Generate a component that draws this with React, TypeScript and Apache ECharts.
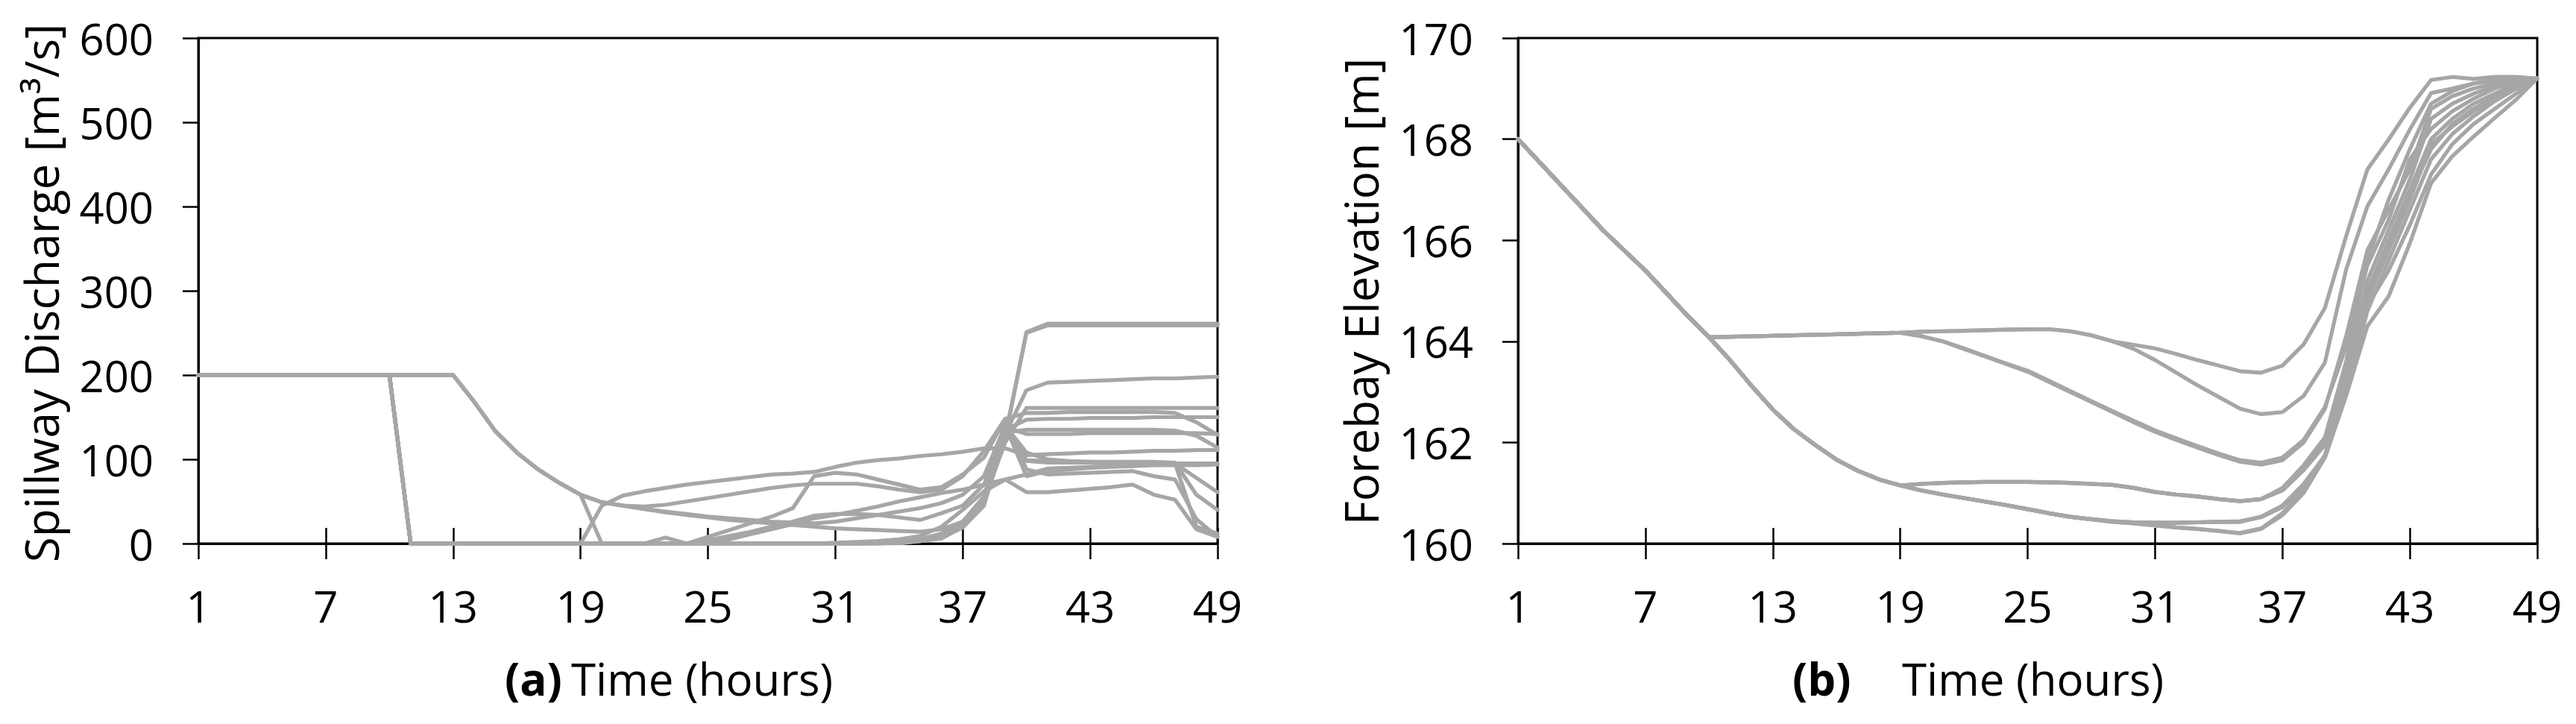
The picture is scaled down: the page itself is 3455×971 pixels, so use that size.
import React, { useEffect, useRef } from 'react';
import * as echarts from 'echarts';

// ---------- categories ----------
const hours = ['1','2','3','4','5','6','7','8','9','10','11','12','13','14','15','16','17','18','19','20','21','22','23','24','25','26','27','28','29','30','31','32','33','34','35','36','37','38','39','40','41','42','43','44','45','46','47','48','49'];

// ---------- (a) Spillway discharge ----------
// hours 1..19 (shared beginnings)
const dischargeHeadA = [200, 200, 200, 200, 200, 200, 200, 200, 200, 200, 200, 200, 200, 168, 133, 108, 88, 72, 58];
const dischargeHeadD = [200, 200, 200, 200, 200, 200, 200, 200, 200, 200, 0, 0, 0, 0, 0, 0, 0, 0, 0];
// hours 20..49
const dTail1 = [49, 45, 41, 37, 34, 31, 28, 26, 24, 22, 20, 18, 17, 16, 15, 14, 17, 26, 52, 120, 161, 161, 161, 161, 161, 161, 161, 161, 161, 161];
const dTail2 = [0, 0, 0, 0, 0, 0, 0, 0, 0, 0, 0, 0, 0, 0, 1, 3, 6, 20, 47, 125, 251, 261, 261, 261, 261, 261, 261, 261, 261, 261];
const dTail3 = [45, 57, 62, 66, 70, 73, 76, 79, 82, 83, 85, 91, 96, 99, 101, 104, 106, 109, 113, 113, 105, 106, 107, 108, 108, 109, 110, 110, 111, 111];
const dTail4 = [0, 0, 0, 0, 0, 8, 16, 24, 32, 42, 80, 84, 82, 76, 70, 64, 67, 82, 102, 148, 155, 155, 156, 156, 156, 156, 156, 155, 144, 129];
const dTail5 = [0, 0, 0, 0, 0, 0, 5, 11, 17, 23, 30, 34, 39, 44, 50, 55, 60, 64, 70, 76, 82, 89, 90, 91, 92, 92, 93, 93, 93, 94];
const dTail6 = [0, 0, 0, 7, 0, 4, 9, 14, 20, 26, 33, 35, 35, 34, 31, 28, 36, 45, 70, 132, 135, 135, 135, 135, 135, 135, 135, 134, 128, 114];
const dTail7 = [0, 0, 0, 0, 0, 0, 0, 0, 0, 0, 0, 0, 0, 1, 3, 5, 9, 23, 49, 130, 182, 191, 192, 193, 194, 195, 196, 196, 197, 198];
const dTail8 = [0, 0, 0, 0, 0, 0, 0, 0, 0, 0, 0, 0, 0, 0, 2, 4, 10, 22, 50, 128, 250, 259, 259, 259, 259, 259, 259, 259, 259, 259];
const dTail9 = [49, 45, 44, 46, 50, 54, 58, 62, 66, 69, 71, 71, 71, 68, 64, 61, 64, 80, 110, 148, 88, 82, 83, 84, 85, 86, 80, 76, 29, 8];
const dTail10 = [0, 0, 0, 0, 0, 0, 0, 0, 0, 0, 0, 1, 2, 3, 5, 9, 20, 40, 62, 76, 61, 61, 63, 65, 67, 70, 58, 52, 17, 8];
const dTail11 = [0, 0, 0, 0, 0, 0, 0, 0, 0, 0, 0, 0, 0, 0, 2, 4, 8, 22, 50, 135, 147, 148, 148, 149, 149, 149, 150, 150, 150, 150];
const dTail12 = [0, 0, 0, 0, 0, 0, 0, 0, 0, 0, 0, 0, 0, 1, 2, 4, 10, 24, 55, 138, 130, 130, 130, 131, 131, 131, 131, 131, 131, 130];
const dTail13 = [0, 0, 0, 0, 0, 0, 0, 0, 0, 0, 0, 0, 0, 0, 2, 5, 12, 26, 56, 140, 99, 98, 97, 97, 96, 96, 96, 95, 95, 95];
const dTail14 = [0, 0, 0, 0, 0, 0, 0, 0, 0, 0, 0, 0, 0, 0, 0, 3, 10, 25, 55, 140, 108, 100, 98, 97, 97, 97, 97, 96, 58, 40];
const dTail15 = [49, 45, 41, 38, 35, 32, 30, 28, 26, 25, 24, 26, 30, 34, 38, 42, 48, 58, 80, 140, 80, 86, 88, 90, 91, 92, 94, 95, 78, 61];
const dTail16 = [0, 0, 0, 0, 0, 0, 0, 0, 0, 0, 0, 0, 0, 0, 1, 3, 7, 19, 45, 135, 98, 96, 96, 96, 95, 95, 95, 95, 20, 12];

const dischargeSeries = [
  [...dischargeHeadA, ...dTail1],
  [...dischargeHeadA, ...dTail2],
  [...dischargeHeadD, ...dTail3],
  [...dischargeHeadD, ...dTail4],
  [...dischargeHeadD, ...dTail5],
  [...dischargeHeadD, ...dTail6],
  [...dischargeHeadD, ...dTail7],
  [...dischargeHeadD, ...dTail8],
  [...dischargeHeadA, ...dTail9],
  [...dischargeHeadD, ...dTail10],
  [...dischargeHeadD, ...dTail11],
  [...dischargeHeadD, ...dTail12],
  [...dischargeHeadD, ...dTail13],
  [...dischargeHeadD, ...dTail14],
  [...dischargeHeadA, ...dTail15],
  [...dischargeHeadD, ...dTail16],
];

// ---------- (b) Forebay elevation ----------
const elevHead = [168, 167.55, 167.1, 166.65, 166.2, 165.8, 165.4, 164.95, 164.5, 164.08]; // h1..h10
const elevUpper = [164.09, 164.1, 164.11, 164.12, 164.13, 164.14, 164.15, 164.16, 164.17]; // h11..h19
const elevLower = [163.62, 163.12, 162.65, 162.26, 161.95, 161.66, 161.44, 161.27, 161.15]; // h11..h19
const elevFlat = [164.19, 164.2, 164.21, 164.22, 164.23, 164.24, 164.24, 164.2, 164.12, 164.0]; // h20..h29
// h30..h49
const eTail1 = [163.93, 163.86, 163.75, 163.63, 163.52, 163.41, 163.38, 163.52, 163.94, 164.66, 166.08, 167.4, 167.99, 168.62, 169.17, 169.23, 169.19, 169.23, 169.23, 169.2];
const eTail2 = [163.85, 163.63, 163.38, 163.13, 162.9, 162.67, 162.56, 162.6, 162.92, 163.58, 165.42, 166.67, 167.4, 168.19, 168.91, 169.0, 169.1, 169.18, 169.2, 169.2];
// h20..h49
const eTail3 = [164.1, 164.0, 163.85, 163.7, 163.55, 163.4, 163.2, 163.0, 162.8, 162.6, 162.4, 162.21, 162.05, 161.9, 161.75, 161.62, 161.56, 161.65, 162.0, 162.66, 164.1, 165.8, 166.6, 167.4, 168.6, 168.85, 169.0, 169.1, 169.15, 169.2];
const eTail4 = [164.1, 164.0, 163.86, 163.71, 163.56, 163.42, 163.22, 163.02, 162.82, 162.62, 162.43, 162.24, 162.08, 161.93, 161.78, 161.65, 161.6, 161.7, 162.05, 162.7, 163.9, 165.5, 166.4, 167.6, 168.2, 168.55, 168.8, 169.0, 169.15, 169.2];
const eTail5 = [161.18, 161.2, 161.21, 161.22, 161.22, 161.22, 161.21, 161.2, 161.18, 161.16, 161.1, 161.02, 160.97, 160.93, 160.88, 160.84, 160.88, 161.08, 161.5, 162.0, 163.4, 165.2, 166.2, 167.2, 168.4, 168.7, 168.9, 169.05, 169.15, 169.2];
const eTail6 = [161.18, 161.2, 161.21, 161.22, 161.22, 161.22, 161.21, 161.2, 161.18, 161.16, 161.1, 161.02, 160.97, 160.93, 160.88, 160.84, 160.88, 161.05, 161.45, 161.95, 163.3, 164.9, 165.9, 166.9, 167.8, 168.3, 168.6, 168.85, 169.05, 169.2];
const eTail7 = [161.05, 160.97, 160.9, 160.83, 160.76, 160.68, 160.6, 160.53, 160.48, 160.44, 160.42, 160.41, 160.41, 160.42, 160.43, 160.43, 160.53, 160.75, 161.18, 161.74, 163.1, 165.0, 166.0, 167.0, 168.0, 168.4, 168.7, 168.9, 169.1, 169.2];
const eTail8 = [161.05, 160.97, 160.9, 160.83, 160.76, 160.68, 160.6, 160.53, 160.48, 160.44, 160.42, 160.41, 160.41, 160.42, 160.43, 160.44, 160.52, 160.72, 161.12, 161.7, 162.95, 164.6, 165.6, 166.6, 167.6, 168.1, 168.45, 168.75, 169.0, 169.2];
const eTail9 = [161.05, 160.97, 160.9, 160.83, 160.76, 160.68, 160.6, 160.53, 160.48, 160.43, 160.4, 160.36, 160.32, 160.29, 160.25, 160.2, 160.29, 160.56, 161.0, 161.7, 162.92, 164.3, 164.89, 165.94, 167.13, 167.66, 168.05, 168.42, 168.78, 169.2];
const eTail10 = [161.05, 160.97, 160.9, 160.83, 160.76, 160.68, 160.6, 160.53, 160.48, 160.43, 160.4, 160.36, 160.32, 160.29, 160.25, 160.21, 160.3, 160.6, 161.05, 161.75, 163.0, 164.7, 165.4, 166.3, 167.3, 167.9, 168.3, 168.6, 168.9, 169.2];
const eTail11 = [161.05, 160.97, 160.9, 160.83, 160.76, 160.68, 160.6, 160.53, 160.48, 160.44, 160.42, 160.41, 160.41, 160.42, 160.43, 160.43, 160.53, 160.74, 161.15, 161.72, 163.2, 164.8, 165.8, 166.8, 167.9, 168.25, 168.55, 168.8, 169.0, 169.2];
const eTail12 = [161.18, 161.2, 161.21, 161.22, 161.22, 161.22, 161.21, 161.2, 161.18, 161.16, 161.1, 161.02, 160.97, 160.93, 160.88, 160.84, 160.88, 161.1, 161.55, 162.1, 163.6, 165.6, 166.8, 167.8, 168.7, 168.95, 169.1, 169.15, 169.2, 169.2];

const elevationSeries = [
  [...elevHead, ...elevUpper, ...elevFlat, ...eTail1],
  [...elevHead, ...elevUpper, ...elevFlat, ...eTail2],
  [...elevHead, ...elevUpper, ...eTail3],
  [...elevHead, ...elevUpper, ...eTail4],
  [...elevHead, ...elevLower, ...eTail5],
  [...elevHead, ...elevLower, ...eTail6],
  [...elevHead, ...elevLower, ...eTail7],
  [...elevHead, ...elevLower, ...eTail8],
  [...elevHead, ...elevLower, ...eTail9],
  [...elevHead, ...elevLower, ...eTail10],
  [...elevHead, ...elevLower, ...eTail11],
  [...elevHead, ...elevLower, ...eTail12],
];

// ---------- style ----------
const FONT = 'Open Sans';
const LINE_GRAY = '#A6A6A6';
const BLACK = '#000000';
const TICK_FS = 58;
const TITLE_FS = 60;

function xAxesFor(gridIndex: number) {
  return [
    {
      type: 'category',
      gridIndex,
      data: hours,
      boundaryGap: false,
      axisLine: { show: true, lineStyle: { color: BLACK, width: 3 } },
      axisTick: { show: true, interval: 5, length: 21, lineStyle: { color: BLACK, width: 2.5 } },
      axisLabel: { interval: 5, margin: 54, fontSize: TICK_FS, color: BLACK, fontFamily: FONT },
      splitLine: { show: false },
    },
    {
      type: 'category',
      gridIndex,
      data: hours,
      boundaryGap: false,
      position: 'bottom',
      axisLine: { show: false },
      axisTick: { show: true, inside: true, interval: 5, length: 21, lineStyle: { color: BLACK, width: 2.5 } },
      axisLabel: { show: false },
      splitLine: { show: false },
    },
  ];
}

function yAxisFor(gridIndex: number, min: number, max: number, interval: number) {
  return {
    type: 'value',
    gridIndex,
    min,
    max,
    interval,
    axisLine: { show: true, lineStyle: { color: BLACK, width: 3 } },
    axisTick: { show: true, length: 21, lineStyle: { color: BLACK, width: 2.5 } },
    axisLabel: { margin: 60, fontSize: TICK_FS, color: BLACK, fontFamily: FONT },
    splitLine: { show: false },
  };
}

function lineSeries(data: number[], xAxisIndex: number, yAxisIndex: number) {
  return {
    type: 'line',
    xAxisIndex,
    yAxisIndex,
    data,
    symbol: 'none',
    silent: true,
    lineStyle: { color: LINE_GRAY, width: 5.2, join: 'round', cap: 'round' },
  };
}

function textEl(text: string, x: number, y: number, opts: any = {}) {
  return {
    type: 'text',
    x,
    y,
    rotation: opts.rotation || 0,
    style: {
      text,
      fontSize: opts.fontSize || TITLE_FS,
      fontFamily: FONT,
      fontWeight: opts.bold ? 'bold' : 'normal',
      fill: BLACK,
      align: opts.align || 'left',
      verticalAlign: 'middle',
    },
  };
}

export default function App() {
  const ref = useRef<HTMLDivElement>(null);
  useEffect(() => {
    document.body.style.margin = '0';
    if (!ref.current) return;
    const chart = echarts.init(ref.current, null, { renderer: 'svg' });
    const option: any = {
      animation: false,
      backgroundColor: '#ffffff',
      grid: [
        { left: 266, top: 51, width: 1367, height: 678, show: true, borderColor: BLACK, borderWidth: 3, backgroundColor: 'transparent' },
        { left: 2036, top: 51, width: 1367, height: 678, show: true, borderColor: BLACK, borderWidth: 3, backgroundColor: 'transparent' },
      ],
      xAxis: [...xAxesFor(0), ...xAxesFor(1)],
      yAxis: [yAxisFor(0, 0, 600, 100), yAxisFor(1, 160, 170, 2)],
      series: [
        ...dischargeSeries.map((d) => lineSeries(d, 0, 0)),
        ...elevationSeries.map((d) => lineSeries(d, 2, 1)),
      ],
      graphic: [
        textEl('Spillway Discharge [m³/s]', 55, 393, { rotation: Math.PI / 2, align: 'center', fontSize: 62 }),
        textEl('Forebay Elevation [m]', 1825, 391, { rotation: Math.PI / 2, align: 'center', fontSize: 62 }),
        textEl('(a)', 677, 910, { bold: true }),
        textEl('Time (hours)', 766, 910),
        textEl('(b)', 2404, 910, { bold: true }),
        textEl('Time (hours)', 2551, 910),
      ],
    };
    chart.setOption(option);
    return () => chart.dispose();
  }, []);
  return <div ref={ref} style={{ width: 3455, height: 971 }} />;
}
